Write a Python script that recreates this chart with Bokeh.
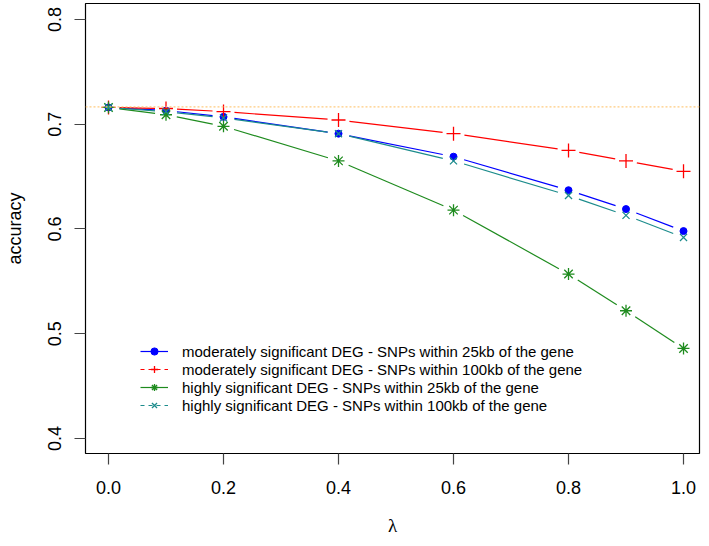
from bokeh.plotting import figure
from bokeh.models import Range1d, FixedTicker, Span, Legend, LegendItem, ColumnDataSource
from bokeh.embed import file_html
from bokeh.resources import INLINE

lam = [0.0, 0.1, 0.2, 0.4, 0.6, 0.8, 0.9, 1.0]
mod_25kb = [0.716, 0.713, 0.707, 0.691, 0.669, 0.637, 0.619, 0.598]
mod_100kb = [0.716, 0.715, 0.712, 0.704, 0.691, 0.675, 0.665, 0.655]
high_25kb = [0.716, 0.709, 0.698, 0.665, 0.618, 0.557, 0.522, 0.486]
high_100kb = [0.716, 0.712, 0.706, 0.691, 0.665, 0.632, 0.613, 0.592]
baseline = 0.7166
labels = ["moderately significant DEG - SNPs within 25kb of the gene",
          "moderately significant DEG - SNPs within 100kb of the gene",
          "highly significant DEG - SNPs within 25kb of the gene",
          "highly significant DEG - SNPs within 100kb of the gene"]
x_ticks = [0.0, 0.2, 0.4, 0.6, 0.8, 1.0]
y_ticks = [0.4, 0.5, 0.6, 0.7, 0.8]

W, H = 701, 538
BL, BR, BT, BB = 85, 2, 3, 82
xr = (-0.04, 1.0278)
yr = (0.38578, 0.81517)
fw = W - BL - BR
fh = H - BT - BB
sx = fw / (xr[1] - xr[0])
sy = fh / (yr[1] - yr[0])

p = figure(width=W, height=H, output_backend="svg", toolbar_location=None,
           x_range=Range1d(*xr), y_range=Range1d(*yr),
           min_border_left=BL, min_border_right=BR, min_border_top=BT, min_border_bottom=BB)
p.grid.visible = False
p.outline_line_color = "black"
p.outline_line_width = 1.2
p.background_fill_color = "white"
p.border_fill_color = "white"

for ax in (p.xaxis[0], p.yaxis[0]):
    ax.axis_line_color = None
    ax.minor_tick_line_color = None
    ax.major_tick_in = 0
    ax.major_tick_out = 11
    ax.major_tick_line_color = "#444444"
    ax.major_tick_line_width = 1.2
    ax.major_label_text_font = "Liberation Sans"
    ax.major_label_text_font_size = "18px"
    ax.major_label_text_color = "black"
    ax.axis_label_text_color = "black"
    ax.axis_label_text_font_style = "normal"

p.xaxis.ticker = FixedTicker(ticks=x_ticks)
p.yaxis.ticker = FixedTicker(ticks=y_ticks)
p.xaxis.major_label_overrides = {t: f"{t:.1f}" for t in x_ticks}
p.yaxis.major_label_overrides = {t: f"{t:.1f}" for t in y_ticks}
p.yaxis.major_label_orientation = "vertical"
p.xaxis.major_label_standoff = 16
p.yaxis.major_label_standoff = 13
p.xaxis.axis_label = "λ"
p.xaxis.axis_label_text_font = "Liberation Serif"
p.xaxis.axis_label_text_font_size = "19px"
p.xaxis.axis_label_standoff = 18
p.yaxis.axis_label = "accuracy"
p.yaxis.axis_label_text_font = "Liberation Sans"
p.yaxis.axis_label_text_font_size = "18px"
p.yaxis.axis_label_standoff = 21

p.add_layout(Span(location=baseline, dimension="width", line_color="#FFCC80",
                  line_dash="2 2", line_width=1.2))

GAP = 11.0


def gapped(xs, ys):
    x0, y0, x1, y1 = [], [], [], []
    for i in range(len(xs) - 1):
        dx = (xs[i + 1] - xs[i]) * sx
        dy = (ys[i + 1] - ys[i]) * sy
        d = (dx * dx + dy * dy) ** 0.5
        if d <= 2 * GAP:
            continue
        f = GAP / d
        x0.append(xs[i] + (xs[i + 1] - xs[i]) * f)
        y0.append(ys[i] + (ys[i + 1] - ys[i]) * f)
        x1.append(xs[i + 1] - (xs[i + 1] - xs[i]) * f)
        y1.append(ys[i + 1] - (ys[i + 1] - ys[i]) * f)
    return dict(x0=x0, y0=y0, x1=x1, y1=y1)


series = [
    (mod_25kb, "#0000FF", "circle", 7, "solid"),
    (mod_100kb, "#FF0000", "cross", 14, "4 4"),
    (high_25kb, "#1E8B1E", "asterisk", 12, "solid"),
    (high_100kb, "#1C8C8C", "x", 10, "4 4"),
]

nan = float("nan")
items = []
for (ys, col, mk, sz, dash), lab in zip(series, labels):
    src = ColumnDataSource(gapped(lam, ys))
    p.segment(x0="x0", y0="y0", x1="x1", y1="y1", source=src, line_color=col, line_width=1.2)
    if mk == "circle":
        p.scatter(lam, ys, marker=mk, size=sz, fill_color=col, line_color=col)
    else:
        p.scatter(lam, ys, marker=mk, size=sz, line_color=col, line_width=1.3)
    # legend-only renderers (undrawable NaN data)
    lr = p.line(x=[nan, nan], y=[nan, nan], line_color=col, line_width=1.2, line_dash=dash)
    if mk == "circle":
        sr = p.scatter(x=[nan], y=[nan], marker=mk, size=6, fill_color=col, line_color=col)
    else:
        sr = p.scatter(x=[nan], y=[nan], marker=mk, size=sz - 1, line_color=col, line_width=1.3)
    items.append(LegendItem(label=lab, renderers=[lr, sr]))

leg = Legend(items=items, location=(55, 39), padding=0, margin=0, spacing=0,
             glyph_width=28, glyph_height=18, label_height=18, label_standoff=14,
             label_text_font="Liberation Sans", label_text_font_size="15px",
             label_text_color="black",
             background_fill_alpha=0, border_line_alpha=0)
p.add_layout(leg, "center")

open("out.html", "w").write(file_html(p, INLINE))
